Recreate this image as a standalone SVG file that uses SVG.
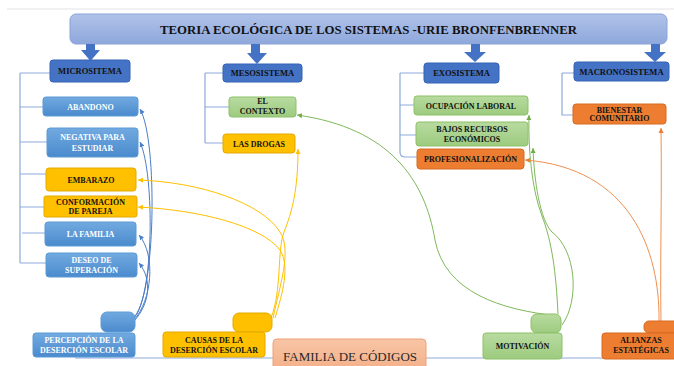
<svg xmlns="http://www.w3.org/2000/svg" width="674" height="366" viewBox="0 0 674 366">
<defs>
<linearGradient id="gTitle" x1="0" y1="0" x2="0" y2="1"><stop offset="0" stop-color="#b0c2e8"/><stop offset="1" stop-color="#8ea8dc"/></linearGradient>
<linearGradient id="gBlue" x1="0" y1="0" x2="0" y2="1"><stop offset="0" stop-color="#72aae0"/><stop offset="1" stop-color="#4a8acd"/></linearGradient>
<linearGradient id="gGreen" x1="0" y1="0" x2="0" y2="1"><stop offset="0" stop-color="#b8dba0"/><stop offset="1" stop-color="#9dcb7f"/></linearGradient>
<linearGradient id="gFam" x1="0" y1="0" x2="0" y2="1"><stop offset="0" stop-color="#f8c5a6"/><stop offset="1" stop-color="#f3ae86"/></linearGradient>
<marker id="aBlue" markerWidth="6" markerHeight="6" refX="5" refY="3" orient="auto" markerUnits="userSpaceOnUse"><path d="M0,0.5 L5,3 L0,5.5 z" fill="#4a7dc8"/></marker>
<marker id="aYel" markerWidth="6" markerHeight="6" refX="5" refY="3" orient="auto" markerUnits="userSpaceOnUse"><path d="M0,0.5 L5,3 L0,5.5 z" fill="#ffc000"/></marker>
<marker id="aGrn" markerWidth="6" markerHeight="6" refX="5" refY="3" orient="auto" markerUnits="userSpaceOnUse"><path d="M0,0.5 L5,3 L0,5.5 z" fill="#70ad47"/></marker>
<marker id="aOrg" markerWidth="6" markerHeight="6" refX="5" refY="3" orient="auto" markerUnits="userSpaceOnUse"><path d="M0,0.5 L5,3 L0,5.5 z" fill="#ed7d31"/></marker>
</defs>
<style>
text{font-family:"Liberation Serif","Times New Roman",serif;font-weight:bold;font-size:8px;text-anchor:middle;fill:#111}
.w{fill:#fff}
.cat{fill:#4472c4;stroke:#3563b5;stroke-width:1}
.blue{fill:url(#gBlue);stroke:#5b9bd5;stroke-width:1}
.yel{fill:#ffc000;stroke:#e3aa00;stroke-width:1}
.grn{fill:url(#gGreen);stroke:#8cc168;stroke-width:1}
.org{fill:#ed7d31;stroke:#d86a22;stroke-width:1}
.tree{fill:none;stroke:#8eaadb;stroke-width:1.2}
.barrow{fill:#4472c4}
.cb{fill:none;stroke:#4a7dc8;stroke-width:1}
.cy{fill:none;stroke:#ffc000;stroke-width:1}
.cg{fill:none;stroke:#7fb85a;stroke-width:1}
.co{fill:none;stroke:#f0904f;stroke-width:1}
</style>
<rect width="674" height="366" fill="#fff"/>
<line x1="7" y1="9" x2="674" y2="9" stroke="#e3e3e3" stroke-width="1"/>

<g id="tree-lines">
<path class="tree" d="M20,73 V263 M20,73 H50 M20,107 H43 M20,142 H47 M20,174 H46 M20,207 H44 M22,233 H45 M20,263 H46"/>
<path class="tree" d="M205,73 V143 M205,73 H223 M205,107 H229 M205,143 H223"/>
<path class="tree" d="M400,73 V152 Q400,157 405,157 H417 M400,73 H424 M400,105 H414 M400,135 H416"/>
<path class="tree" d="M562,73 V115 H573 M562,73 H574"/>
<line class="tree" x1="75" y1="358" x2="610" y2="358"/>
</g>

<g id="title">
<rect x="70" y="14" width="597" height="30" rx="6" fill="url(#gTitle)" stroke="#8aa4d8"/>
<text x="368.5" y="34" style="font-size:13px" textLength="417" lengthAdjust="spacingAndGlyphs">TEORIA ECOLÓGICA DE LOS SISTEMAS -URIE BRONFENBRENNER</text>
</g>

<g id="block-arrows">
<polygon class="barrow" points="86,44 95,44 95,50 100,50 90.5,61 81,50 86,50"/>
<polygon class="barrow" points="251,44 260,44 260,53 267,53 257,64 247,53 251,53"/>
<polygon class="barrow" points="471,44 480,44 480,52 486,52 475,62 464,52 471,52"/>
<polygon class="barrow" points="651,44 660,44 660,52 666,52 655,62 644,52 651,52"/>
</g>

<g id="connectors">
<path class="cb" d="M133,318 C156,300 158,140 140,109" marker-end="url(#aBlue)"/>
<path class="cb" d="M133,319 C154,300 155,175 140,142" marker-end="url(#aBlue)"/>
<path class="cb" d="M134,320 C152,300 156,255 139,235" marker-end="url(#aBlue)"/>
<path class="cb" d="M134,321 C149,305 153,280 139,263" marker-end="url(#aBlue)"/>
<path class="cy" d="M271,318 C282,290 277,250 284,232 C292,212 298,190 298,149" marker-end="url(#aYel)"/>
<path class="cy" d="M273,318 C280,285 292,250 280,232 C262,203 200,182 138,180" marker-end="url(#aYel)"/>
<path class="cy" d="M275,318 C283,292 290,266 280,250 C262,226 200,210 138,207" marker-end="url(#aYel)"/>
<path class="cg" d="M559,316 C500,310 445,292 435,240 C425,180 390,128 297,115" marker-end="url(#aGrn)"/>
<path class="cg" d="M558,314 C556,272 552,242 542,216 C532,190 528,150 529,115" marker-end="url(#aGrn)"/>
<path class="cg" d="M562,325 C580,300 576,250 552,232 C540,220 534,180 533,148" marker-end="url(#aGrn)"/>
<path class="co" d="M661,321 C660,260 662,200 661,128" marker-end="url(#aOrg)"/>
<path class="co" d="M659,321 C660,250 630,168 525,160" marker-end="url(#aOrg)"/>
</g>

<g id="microsistema"><rect class="cat" x="50" y="60" width="80" height="22" rx="3"/><text x="90" y="74" style="font-size:8.5px">MICROSITEMA</text></g>
<g id="mesosistema"><rect class="cat" x="223" y="64" width="79" height="18" rx="3"/><text x="262.5" y="76" style="font-size:8.5px">MESOSISTEMA</text></g>
<g id="exosistema"><rect class="cat" x="424" y="63" width="75" height="20" rx="3"/><text x="461.5" y="76" style="font-size:8.5px">EXOSISTEMA</text></g>
<g id="macronosistema"><rect class="cat" x="574" y="62" width="95" height="19" rx="3"/><text x="621.5" y="74.5" style="font-size:8.5px">MACRONOSISTEMA</text></g>

<g id="abandono"><rect class="blue" x="43" y="97" width="95" height="19" rx="3"/><text class="w" x="90.5" y="109.5">ABANDONO</text></g>
<g id="negativa"><rect class="blue" x="47" y="128" width="91" height="29" rx="3"/><text class="w" x="92.5" y="140">NEGATIVA PARA</text><text class="w" x="92.5" y="150.5">ESTUDIAR</text></g>
<g id="embarazo"><rect class="yel" x="46" y="168" width="90" height="23" rx="3"/><text x="91" y="182.5">EMBARAZO</text></g>
<g id="conformacion"><rect class="yel" x="44" y="196" width="93" height="21" rx="2"/><text x="90.5" y="204.5">CONFORMACIÓN</text><text x="90.5" y="214">DE PAREJA</text></g>
<g id="la-familia"><rect class="blue" x="45" y="222" width="91" height="24" rx="3"/><text class="w" x="90.5" y="237">LA FAMILIA</text></g>
<g id="deseo"><rect class="blue" x="46" y="253" width="91" height="24" rx="3"/><text class="w" x="91.5" y="263">DESEO DE</text><text class="w" x="91.5" y="273">SUPERACIÓN</text></g>

<g id="el-contexto"><rect class="grn" x="229" y="97" width="67" height="20" rx="3"/><text x="262.5" y="104">EL</text><text x="262.5" y="113.5">CONTEXTO</text></g>
<g id="las-drogas"><rect class="yel" x="223" y="134" width="72" height="19" rx="3"/><text x="259" y="146.5">LAS DROGAS</text></g>

<g id="ocupacion"><rect class="grn" x="414" y="96" width="114" height="19" rx="3"/><text x="471" y="108.5">OCUPACIÓN LABORAL</text></g>
<g id="bajos-recursos"><rect class="grn" x="416" y="122" width="112" height="24" rx="3"/><text x="472" y="132">BAJOS RECURSOS</text><text x="472" y="142">ECONÓMICOS</text></g>
<g id="profesionalizacion"><rect class="org" x="417" y="149" width="107" height="20" rx="3"/><text x="470.5" y="162">PROFESIONALIZACIÓN</text></g>

<g id="bienestar"><rect class="org" x="573" y="104" width="93" height="20" rx="3"/><text x="619.5" y="112.5">BIENESTAR</text><text x="619.5" y="121">COMUNITARIO</text></g>

<g id="percepcion"><rect class="blue" x="101" y="312" width="34" height="20" rx="6"/><rect class="blue" x="33" y="333" width="102" height="24" rx="3"/><text class="w" x="84" y="343">PERCEPCIÓN DE LA</text><text class="w" x="84" y="353">DESERCIÓN ESCOLAR</text></g>
<g id="causas"><rect class="yel" x="233" y="313" width="39" height="19" rx="6"/><rect class="yel" x="163" y="332" width="102" height="25" rx="3"/><text x="214" y="343">CAUSAS DE LA</text><text x="214" y="353">DESERCIÓN ESCOLAR</text></g>
<g id="familia-de-codigos"><rect x="273" y="339" width="153" height="34" rx="4" fill="url(#gFam)" stroke="#eea07a"/><text x="283" y="361" style="font-size:13px;font-weight:normal;text-anchor:start;fill:#2a2a2a">FAMILIA DE CÓDIGOS</text></g>
<g id="motivacion"><rect class="grn" x="531" y="314" width="30" height="19" rx="6"/><rect class="grn" x="483" y="333" width="79" height="26" rx="3"/><text x="522.5" y="349">MOTIVACIÓN</text></g>
<g id="alianzas"><rect class="org" x="644" y="321" width="40" height="12" rx="5"/><rect class="org" x="602" y="333" width="80" height="26" rx="3"/><text x="641" y="343">ALIANZAS</text><text x="641" y="353">ESTATÉGICAS</text></g>
</svg>
